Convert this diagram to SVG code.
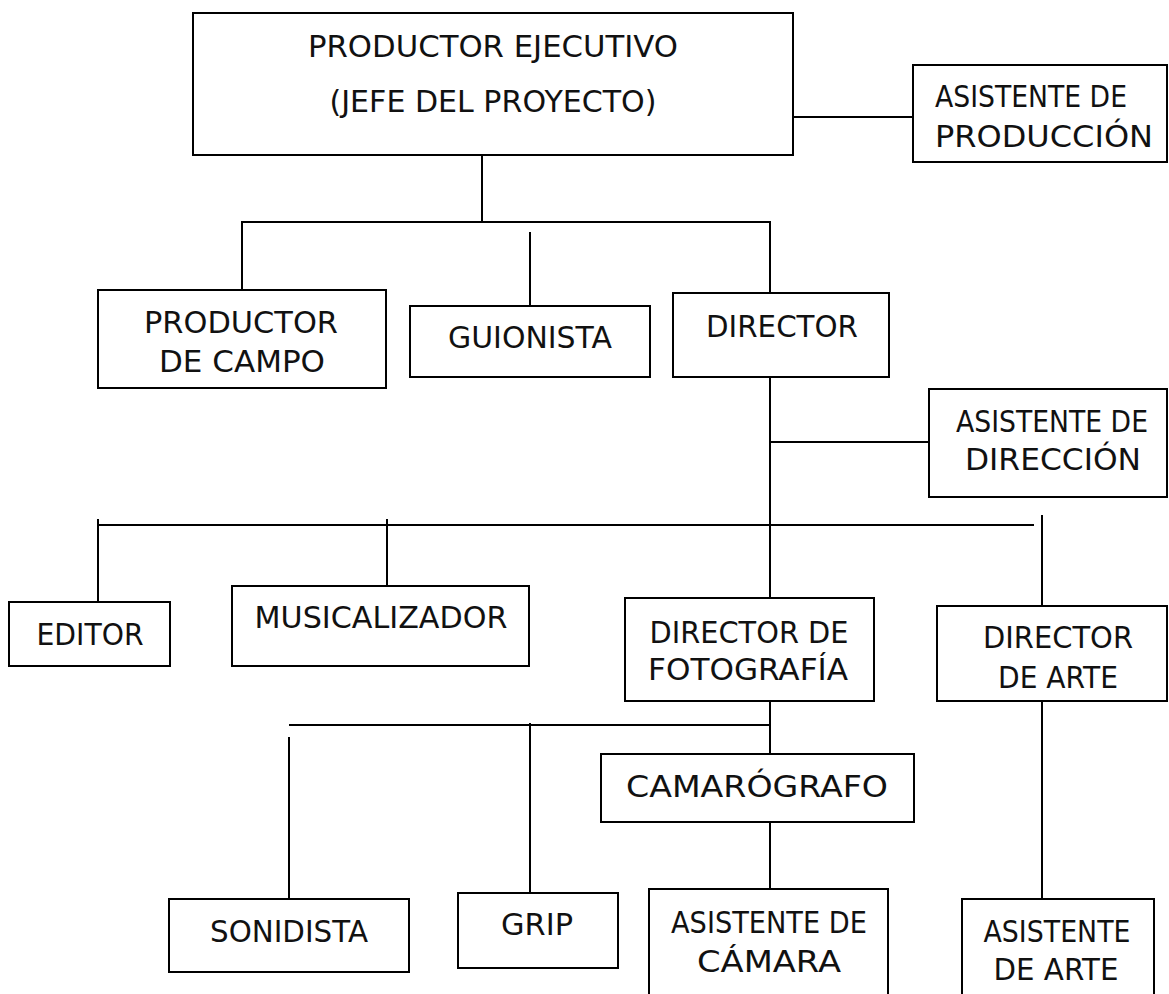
<svg xmlns="http://www.w3.org/2000/svg" width="1169" height="994" viewBox="0 0 1169 994">
<style>
.box{fill:#fff;stroke:#000;stroke-width:2}
.open{fill:none;stroke:#000;stroke-width:2}
.conn line{stroke:#000;stroke-width:2}
text{font-family:"DejaVu Sans","Liberation Sans",sans-serif;font-size:30px;fill:#111;text-anchor:middle}
.l{text-anchor:start}
</style>
<rect width="1169" height="994" fill="#fff"/>
<g id="connectors" class="conn">
<line x1="482" y1="155" x2="482" y2="222"/>
<line x1="241" y1="222" x2="771" y2="222"/>
<line x1="242" y1="222" x2="242" y2="290"/>
<line x1="530" y1="232" x2="530" y2="306"/>
<line x1="770" y1="222" x2="770" y2="293"/>
<line x1="793" y1="117" x2="913" y2="117"/>
<line x1="770" y1="377" x2="770" y2="598"/>
<line x1="770" y1="442" x2="929" y2="442"/>
<line x1="97" y1="525" x2="1034" y2="525"/>
<line x1="98" y1="519" x2="98" y2="602"/>
<line x1="387" y1="519" x2="387" y2="586"/>
<line x1="1042" y1="515" x2="1042" y2="606"/>
<line x1="770" y1="701" x2="770" y2="754"/>
<line x1="289" y1="725" x2="771" y2="725"/>
<line x1="289" y1="737" x2="289" y2="899"/>
<line x1="530" y1="723" x2="530" y2="893"/>
<line x1="770" y1="822" x2="770" y2="889"/>
<line x1="1042" y1="701" x2="1042" y2="899"/>
</g>
<g id="productor-ejecutivo">
<rect class="box" x="193" y="13" width="600" height="142"/>
<text x="493" y="57" textLength="370" lengthAdjust="spacingAndGlyphs">PRODUCTOR EJECUTIVO</text>
<text x="493" y="112" textLength="327" lengthAdjust="spacingAndGlyphs">(JEFE DEL PROYECTO)</text>
</g>
<g id="asistente-produccion">
<rect class="box" x="913" y="65" width="254" height="97"/>
<text class="l" x="935" y="107" textLength="192" lengthAdjust="spacingAndGlyphs">ASISTENTE DE</text>
<text class="l" x="935" y="147" textLength="218" lengthAdjust="spacingAndGlyphs">PRODUCCIÓN</text>
</g>
<g id="productor-campo">
<rect class="box" x="98" y="290" width="288" height="98"/>
<text x="241" y="333" textLength="194" lengthAdjust="spacingAndGlyphs">PRODUCTOR</text>
<text x="242" y="372" textLength="166" lengthAdjust="spacingAndGlyphs">DE CAMPO</text>
</g>
<g id="guionista">
<rect class="box" x="410" y="306" width="240" height="71"/>
<text x="530" y="348" textLength="164" lengthAdjust="spacingAndGlyphs">GUIONISTA</text>
</g>
<g id="director">
<rect class="box" x="673" y="293" width="216" height="84"/>
<text x="782" y="337" textLength="152" lengthAdjust="spacingAndGlyphs">DIRECTOR</text>
</g>
<g id="asistente-direccion">
<rect class="box" x="929" y="389" width="238" height="108"/>
<text x="1052" y="432" textLength="192" lengthAdjust="spacingAndGlyphs">ASISTENTE DE</text>
<text x="1053" y="470" textLength="176" lengthAdjust="spacingAndGlyphs">DIRECCIÓN</text>
</g>
<g id="editor">
<rect class="box" x="9" y="602" width="161" height="64"/>
<text x="90" y="645" textLength="107" lengthAdjust="spacingAndGlyphs">EDITOR</text>
</g>
<g id="musicalizador">
<rect class="box" x="232" y="586" width="297" height="80"/>
<text x="381" y="628" textLength="253" lengthAdjust="spacingAndGlyphs">MUSICALIZADOR</text>
</g>
<g id="director-fotografia">
<rect class="box" x="625" y="598" width="249" height="103"/>
<text x="749" y="643" textLength="199" lengthAdjust="spacingAndGlyphs">DIRECTOR DE</text>
<text x="748" y="680" textLength="200" lengthAdjust="spacingAndGlyphs">FOTOGRAFÍA</text>
</g>
<g id="director-arte">
<rect class="box" x="937" y="606" width="230" height="95"/>
<text x="1058" y="648" textLength="150" lengthAdjust="spacingAndGlyphs">DIRECTOR</text>
<text x="1058" y="688" textLength="120" lengthAdjust="spacingAndGlyphs">DE ARTE</text>
</g>
<g id="camarografo">
<rect class="box" x="601" y="754" width="313" height="68"/>
<text x="757" y="797" textLength="262" lengthAdjust="spacingAndGlyphs">CAMARÓGRAFO</text>
</g>
<g id="sonidista">
<rect class="box" x="169" y="899" width="240" height="73"/>
<text x="289" y="942" textLength="158" lengthAdjust="spacingAndGlyphs">SONIDISTA</text>
</g>
<g id="grip">
<rect class="box" x="458" y="893" width="160" height="75"/>
<text x="537" y="935" textLength="72" lengthAdjust="spacingAndGlyphs">GRIP</text>
</g>
<g id="asistente-camara">
<path class="open" d="M649 994 V889 H888 V994"/>
<text x="769" y="933" textLength="196" lengthAdjust="spacingAndGlyphs">ASISTENTE DE</text>
<text x="769" y="972" textLength="144" lengthAdjust="spacingAndGlyphs">CÁMARA</text>
</g>
<g id="asistente-arte">
<path class="open" d="M962 994 V899 H1154 V994"/>
<text x="1057" y="942" textLength="147" lengthAdjust="spacingAndGlyphs">ASISTENTE</text>
<text x="1056" y="980" textLength="125" lengthAdjust="spacingAndGlyphs">DE ARTE</text>
</g>
</svg>
